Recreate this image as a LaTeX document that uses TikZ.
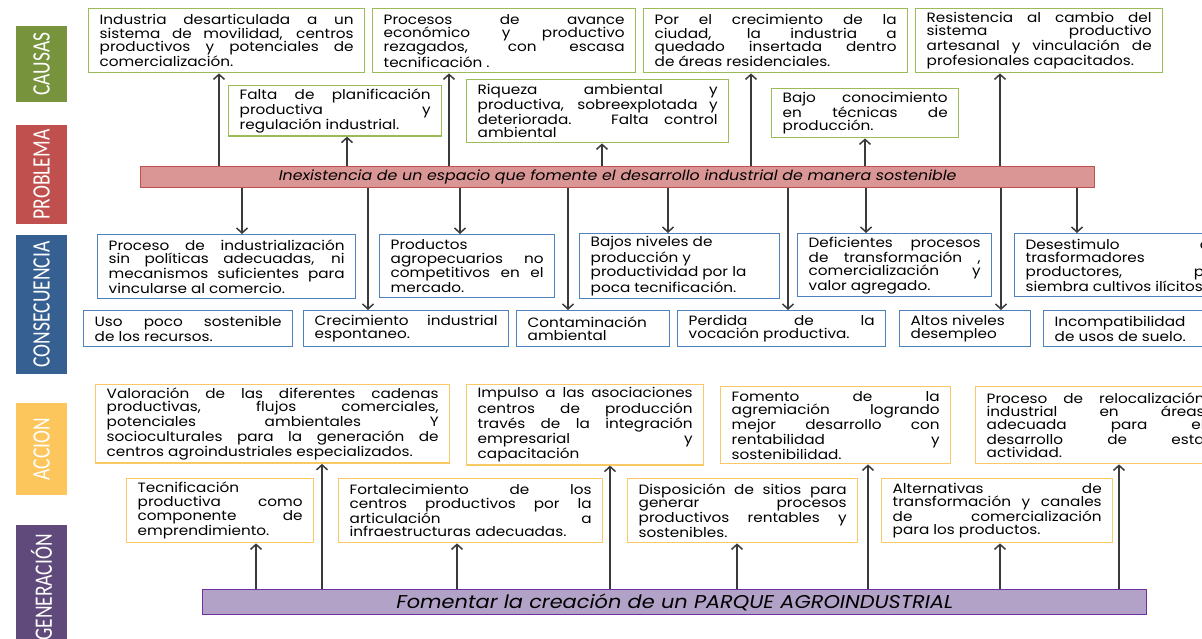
\documentclass[tikz,border=0pt]{standalone}
\usepackage{fontspec}
\setmainfont[FakeStretch=1.13]{Poppins}
\newfontfamily\etiqfamily[FakeStretch=0.78]{Carlito}
\usetikzlibrary{arrows.meta}

\definecolor{causaborde}{HTML}{9BBB59}
\definecolor{conseborde}{HTML}{4F81BD}
\definecolor{accionborde}{HTML}{FAC864}
\definecolor{causafondo}{HTML}{77933C}
\definecolor{problemafondo}{HTML}{C0504D}
\definecolor{consefondo}{HTML}{376092}
\definecolor{accionfondo}{HTML}{FCC65C}
\definecolor{generafondo}{HTML}{604A7B}
\definecolor{barrarosa}{HTML}{D99694}
\definecolor{barralila}{HTML}{B3A2C7}
\definecolor{bordelila}{HTML}{7030A0}
\definecolor{flechagris}{HTML}{3A3A3A}

\newcommand{\cajafont}{\fontsize{13.5}{13.3}\selectfont\tolerance=10000\hbadness=10000\relax}
\newcommand{\etiqfont}{\etiqfamily\fontsize{25}{25}\selectfont}

\tikzset{
  box/.style={draw, line width=1.4pt, anchor=north west, align=justify,
    inner xsep=11pt, inner ysep=3pt, font=\cajafont},
  causa/.style={box, draw=causaborde},
  conse/.style={box, draw=conseborde},
  accion/.style={box, draw=accionborde},
  etiqueta/.style={rotate=90, text=white, font=\etiqfont, inner sep=0pt},
  barra/.style={line width=1.4pt, anchor=north west, inner sep=0pt},
  flecha/.style={->, line width=1.5pt, draw=flechagris}
}

\begin{document}
\begin{tikzpicture}[x=1pt, y=-1pt, >={Straight Barb[length=5pt,width=11pt]}]
    \useasboundingbox (0,0) rectangle (1202,639);
    \clip (0,0) rectangle (1202,639);

    % side labels
    \node[etiqueta, fill=causafondo, minimum width=76pt, minimum height=51pt] (causas) at (41.5,64) {CAUSAS};
    \node[etiqueta, fill=problemafondo, minimum width=99pt, minimum height=51pt] (lproblema) at (41.5,174.5) {PROBLEMA};
    \node[etiqueta, fill=consefondo, minimum width=139pt, minimum height=51pt] (consecuencia) at (41.5,304.5) {CONSECUENCIA};
    \node[etiqueta, fill=accionfondo, minimum width=92pt, minimum height=51pt] (laccion) at (41.5,449) {ACCION};
    \node[etiqueta, fill=generafondo, minimum width=125pt, minimum height=51pt] (generacion) at (41.5,587.5) {GENERACIÓN};

    % causes
    \node[causa, text width=254pt, minimum height=64pt] (c1) at (88,8) {Industria desarticulada a un\linebreak sistema de movilidad, centros\linebreak productivos y potenciales de\linebreak comercialización.};
    \node[causa, text width=241pt, minimum height=64pt] (c2) at (372,8) {Procesos de avance\linebreak económico y productivo\linebreak rezagados, con escasa\linebreak tecnificación .};
    \node[causa, text width=242pt, minimum height=64pt] (c3) at (643,8) {Por el crecimiento de la\linebreak ciudad, la industria a\linebreak quedado insertada dentro\linebreak de áreas residenciales.};
    \node[causa, text width=225pt, minimum height=64pt] (c4) at (915,8) {Resistencia al cambio del\linebreak sistema productivo\linebreak artesanal y vinculación de\linebreak profesionales capacitados.};
    \node[causa, text width=191pt, minimum height=48pt] (f1) at (228,85) {Falta de planificación\linebreak productiva y\linebreak regulación industrial.};
    \node[causa, text width=240pt, minimum height=63pt] (f2) at (466,79) {Riqueza ambiental y\linebreak productiva, sobreexplotada y\linebreak deteriorada. Falta control\linebreak ambiental};
    \node[causa, text width=165pt, minimum height=49pt] (f3) at (771,88) {Bajo conocimiento\linebreak en técnicas de\linebreak producción.};

    % problem
    \node[barra, draw=problemafondo, fill=barrarosa, minimum width=954pt, minimum height=21pt,
      font=\fontsize{14}{15}\selectfont\itshape] (problema) at (140,166)
      {Inexistencia de un espacio que fomente el desarrollo industrial de manera sostenible};

    % consequences
    \node[conse, text width=236pt, minimum height=64pt] (p1) at (97,234) {Proceso de industrialización\linebreak sin políticas adecuadas, ni\linebreak mecanismos suficientes para\linebreak vincularse al comercio.};
    \node[conse, text width=153pt, minimum height=63pt] (p2) at (379,234) {Productos\newline agropecuarios no\linebreak competitivos en el\linebreak mercado.};
    \node[conse, text width=178pt, minimum height=63pt] (p3) at (579,233) {Bajos niveles de\newline producción y\newline productividad por la\newline poca tecnificación.};
    \node[conse, text width=172pt, minimum height=63pt] (p4) at (797,233) {Deficientes procesos\linebreak de transformación ,\linebreak comercialización y\linebreak valor agregado.};
    \node[conse, text width=194pt, minimum height=63pt] (p5) at (1014,233) {Desestimulo de\linebreak trasformadores\newline productores, por\linebreak siembra cultivos ilícitos.};
    \node[conse, text width=187pt, minimum height=36pt] (q1) at (83,310) {Uso poco sostenible\linebreak de los recursos.};
    \node[conse, text width=183pt, minimum height=36pt] (q2) at (303,310) {Crecimiento industrial\linebreak espontaneo.};
    \node[conse, text width=131pt, minimum height=36pt] (q3) at (516,310) {Contaminación\newline ambiental};
    \node[conse, text width=186pt, minimum height=36pt] (q4) at (677,310) {Perdida de la\linebreak vocación productiva.};
    \node[conse, text width=109pt, minimum height=36pt] (q5) at (899,310) {Altos niveles\newline desempleo};
    \node[conse, text width=148pt, minimum height=36pt] (q6) at (1043,310) {Incompatibilidad\newline de usos de suelo.};

    % actions
    \node[accion, text width=332pt, minimum height=77pt] (a1) at (95,384) {Valoración de las diferentes cadenas\linebreak productivas, flujos comerciales,\linebreak potenciales ambientales Y\linebreak socioculturales para la generación de\linebreak centros agroindustriales especializados.};
    \node[accion, text width=215pt, minimum height=77pt] (a2) at (466,384) {Impulso a las asociaciones\linebreak centros de producción\linebreak través de la integración\linebreak empresarial y\linebreak capacitación};
    \node[accion, text width=208pt, minimum height=77pt] (a3) at (720,386) {Fomento de la\linebreak agremiación logrando\linebreak mejor desarrollo con\linebreak rentabilidad y\linebreak sostenibilidad.};
    \node[accion, text width=218pt, minimum height=77pt] (a4) at (975,386) {Proceso de relocalización\linebreak industrial en áreas\linebreak adecuada para el\linebreak desarrollo de esta\linebreak actividad.};
    \node[accion, text width=165pt, minimum height=64pt] (g1) at (126,478) {Tecnificación\newline productiva como\linebreak componente de\linebreak emprendimiento.};
    \node[accion, text width=242pt, minimum height=64pt] (g2) at (338,478) {Fortalecimiento de los\linebreak centros productivos por la\linebreak articulación a\linebreak infraestructuras adecuadas.};
    \node[accion, text width=208pt, minimum height=64pt] (g3) at (627,478) {Disposición de sitios para\linebreak generar procesos\linebreak productivos rentables y\linebreak sostenibles.};
    \node[accion, text width=209pt, minimum height=64pt] (g4) at (881,478) {Alternativas de\linebreak transformación y canales\linebreak de comercialización\linebreak para los productos.};

    % generation
    \node[barra, draw=bordelila, fill=barralila, minimum width=944pt, minimum height=25pt,
      font=\fontsize{18.5}{19}\selectfont\itshape] (parque) at (202,589)
      {Fomentar la creación de un PARQUE AGROINDUSTRIAL};

    % arrows from the problem
    \draw[flecha] (problema.north -| 219,0) -- (c1.south -| 219,0);
    \draw[flecha] (problema.north -| 347,0) -- (f1.south -| 347,0);
    \draw[flecha] (problema.north -| 449,0) -- (c2.south -| 449,0);
    \draw[flecha] (problema.north -| 602,0) -- (f2.south -| 602,0);
    \draw[flecha] (problema.north -| 751,0) -- (c3.south -| 751,0);
    \draw[flecha] (problema.north -| 865,0) -- (f3.south -| 865,0);
    \draw[flecha] (problema.north -| 1000,0) -- (c4.south -| 1000,0);
    \draw[flecha] (problema.south -| 242,0) -- (p1.north -| 242,0);
    \draw[flecha] (problema.south -| 368,0) -- (q2.north -| 368,0);
    \draw[flecha] (problema.south -| 460,0) -- (p2.north -| 460,0);
    \draw[flecha] (problema.south -| 568,0) -- (q3.north -| 568,0);
    \draw[flecha] (problema.south -| 668,0) -- (p3.north -| 668,0);
    \draw[flecha] (problema.south -| 788,0) -- (q4.north -| 788,0);
    \draw[flecha] (problema.south -| 866,0) -- (p4.north -| 866,0);
    \draw[flecha] (problema.south -| 1001,0) -- (q5.north -| 1001,0);
    \draw[flecha] (problema.south -| 1077,0) -- (p5.north -| 1077,0);

    % arrows from the park
    \draw[flecha] (parque.north -| 256,0) -- (g1.south -| 256,0);
    \draw[flecha] (parque.north -| 322,0) -- (a1.south -| 322,0);
    \draw[flecha] (parque.north -| 457,0) -- (g2.south -| 457,0);
    \draw[flecha] (parque.north -| 610,0) -- (a2.south -| 610,0);
    \draw[flecha] (parque.north -| 737,0) -- (g3.south -| 737,0);
    \draw[flecha] (parque.north -| 868,0) -- (a3.south -| 868,0);
    \draw[flecha] (parque.north -| 1000,0) -- (g4.south -| 1000,0);
    \draw[flecha] (parque.north -| 1119,0) -- (a4.south -| 1119,0);
\end{tikzpicture}
\end{document}
